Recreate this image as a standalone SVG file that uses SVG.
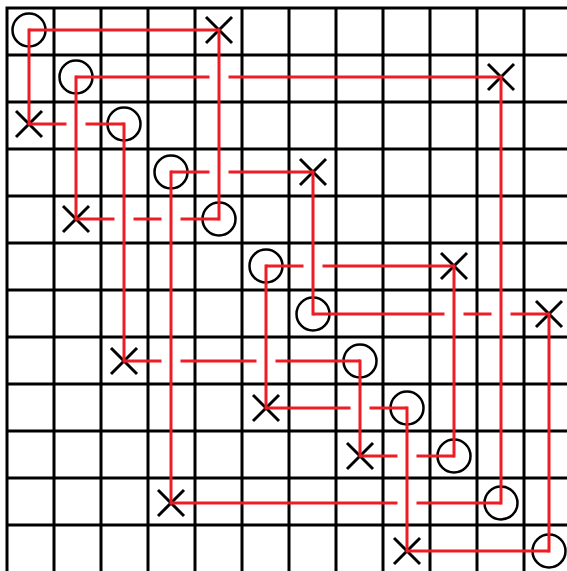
<svg xmlns="http://www.w3.org/2000/svg" width="567" height="571" viewBox="0 0 567 571">
<style>
.grid{stroke:#000;stroke-width:3;fill:none}
.o{fill:none;stroke:#000;stroke-width:2.5}
.x{stroke:#000;stroke-width:3;stroke-linecap:butt}
.h{stroke:#ee1c25;stroke-width:3;fill:none;stroke-linecap:butt}
.v{stroke:#ee1c25;stroke-width:3;fill:none;stroke-linecap:square}
</style>
<defs>
<g id="cross"><line class="x" x1="-13" y1="-13" x2="13" y2="13"/><line class="x" x1="-13" y1="13" x2="13" y2="-13"/></g>
</defs>
<rect width="567" height="571" fill="#fff"/>
<g id="grid">
<path class="grid" d="M7,8V571M54,8V571M101,8V571M148,8V571M195,8V571M242,8V571M289,8V571M336,8V571M383,8V571M430,8V571M477,8V571M524,8V571M5.5,8H567M7,55H567M7,102H567M7,149H567M7,196H567M7,243H567M7,290H567M7,337H567M7,384H567M7,431H567M7,478H567M7,525H567"/>
</g>
<g id="circles">
<circle id="o0" class="o" cx="29" cy="30" r="16.5"/>
<circle id="o1" class="o" cx="76" cy="77" r="16.5"/>
<circle id="o2" class="o" cx="124" cy="124" r="16.5"/>
<circle id="o3" class="o" cx="171" cy="172" r="16.5"/>
<circle id="o4" class="o" cx="219" cy="219" r="16.5"/>
<circle id="o5" class="o" cx="266" cy="266" r="16.5"/>
<circle id="o6" class="o" cx="313" cy="314" r="16.5"/>
<circle id="o7" class="o" cx="360" cy="361" r="16.5"/>
<circle id="o8" class="o" cx="407" cy="408" r="16.5"/>
<circle id="o9" class="o" cx="454" cy="456" r="16.5"/>
<circle id="o10" class="o" cx="501" cy="503" r="16.5"/>
<circle id="o11" class="o" cx="549" cy="551" r="16.5"/>
</g>
<g id="crosses">
<use id="x0" href="#cross" x="219" y="30"/>
<use id="x1" href="#cross" x="501" y="77"/>
<use id="x2" href="#cross" x="29" y="124"/>
<use id="x3" href="#cross" x="313" y="172"/>
<use id="x4" href="#cross" x="76" y="219"/>
<use id="x5" href="#cross" x="454" y="266"/>
<use id="x6" href="#cross" x="549" y="314"/>
<use id="x7" href="#cross" x="124" y="361"/>
<use id="x8" href="#cross" x="266" y="408"/>
<use id="x9" href="#cross" x="360" y="456"/>
<use id="x10" href="#cross" x="171" y="503"/>
<use id="x11" href="#cross" x="407" y="551"/>
</g>
<g id="connectors">
<path class="h" d="M29,30H219M76,77H209.5M228.5,77H501M29,124H66.5M85.5,124H124M171,172H209.5M228.5,172H313M76,219H114.5M133.5,219H161.5M180.5,219H219M266,266H303.5M322.5,266H454M313,314H444.5M463.5,314H491.5M510.5,314H549M124,361H161.5M180.5,361H256.5M275.5,361H360M266,408H350.5M369.5,408H407M360,456H397.5M416.5,456H454M171,503H397.5M416.5,503H501M407,551H549"/>
<path class="v" d="M29,30V124M76,77V219M124,124V361M171,172V503M219,30V219M266,266V408M313,172V314M360,361V456M407,408V551M454,266V456M501,77V503M549,314V551"/>
</g>
</svg>
